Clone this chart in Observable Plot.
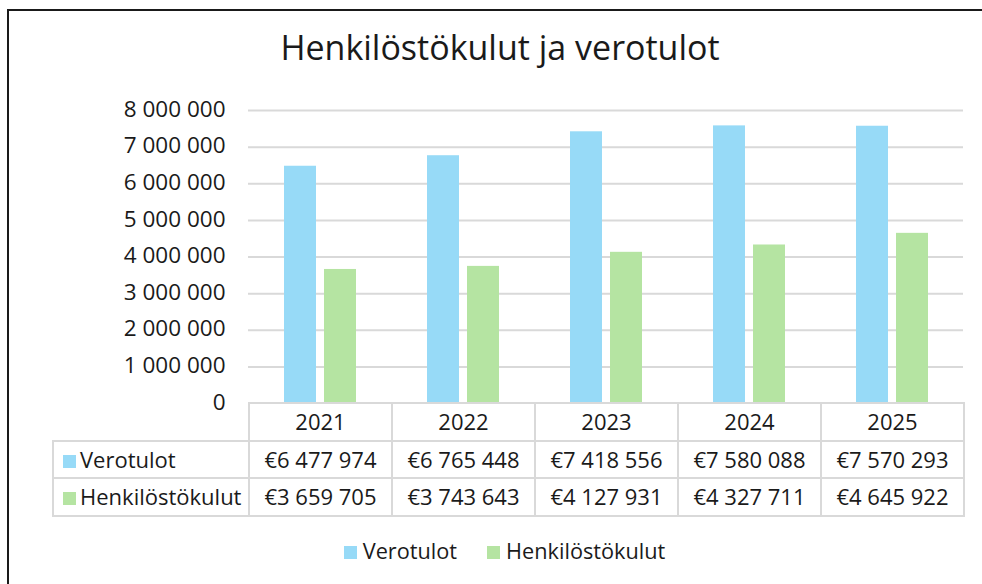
<!DOCTYPE html>
<html>
<head>
<meta charset="utf-8">
<script src="https://cdn.jsdelivr.net/npm/d3@7"></script>
<script src="https://cdn.jsdelivr.net/npm/@observablehq/plot@0.6"></script>
<style>
  html, body { margin: 0; padding: 0; background: #fff; }
  body { width: 982px; height: 584px; overflow: hidden; position: relative; font-family: "Open Sans", sans-serif; color: #1a1a1a; }
  #frame { position: absolute; left: 7px; top: 9px; width: 1000px; height: 600px; border-left: 2px solid #1a1a1a; border-top: 2px solid #1a1a1a; box-sizing: border-box; }
  #title { position: absolute; left: 0; width: 1000px; top: 24px; text-align: center; font-size: 34px; line-height: 46px; white-space: nowrap; }
  #chart { position: absolute; left: 0; top: 0; }
  #tbl { position: absolute; left: 52px; top: 402px; border-collapse: collapse; font-size: 22px; }
  #tbl td { border: 2px solid #d9d9d9; height: 35.5px; padding: 0; text-align: center; white-space: nowrap; line-height: 35px; }
  #tbl td.lbl { text-align: left; padding-left: 9px; width: 185px; }
  #tbl td.yr, #tbl td.val { width: 141px; }
  #tbl td.blank { border: none; }
  .sw { display: inline-block; width: 13px; height: 13px; margin-right: 4px; vertical-align: 0px; }
  #legend { position: absolute; top: 536px; left: 0; width: 1009px; text-align: center; font-size: 21.7px; white-space: nowrap; }
  #legend span.item { margin: 0 15px; }
  #legend .sw { margin-right: 6px; }
</style>
</head>
<body>
<div id="frame"></div>
<div id="title">Henkilöstökulut ja verotulot</div>
<div id="chart"></div>
<table id="tbl"></table>
<div id="legend"></div>
<script>
const years = ["2021", "2022", "2023", "2024", "2025"];
const seriesNames = ["Verotulot", "Henkilöstökulut"];
const verotulot = [6477974, 6765448, 7418556, 7580088, 7570293];
const henkilostokulut = [3659705, 3743643, 4127931, 4327711, 4645922];
const yTicks = [0, 1000000, 2000000, 3000000, 4000000, 5000000, 6000000, 7000000, 8000000];
const colors = ["#97DAF7", "#B5E4A2"];

const values = [verotulot, henkilostokulut];
const data = [];
years.forEach((yr, i) => {
  seriesNames.forEach((s, j) => data.push({year: yr, series: s, value: values[j][i]}));
});

const spaceFmt = d => d3.format(",")(d).replace(/,/g, " ");
const euroFmt = d => "€" + spaceFmt(d);

const plot = Plot.plot({
  width: 982,
  height: 430,
  marginTop: 110,
  marginBottom: 27,
  marginLeft: 248,
  marginRight: 19,
  style: {fontFamily: "Open Sans, sans-serif", fontSize: "22.5px", color: "#1a1a1a", background: "transparent"},
  fx: {domain: years, padding: 0, axis: null},
  x: {domain: seriesNames, paddingInner: 0.2, paddingOuter: 0.8875, axis: null},
  y: {domain: [0, 8000000], axis: null},
  color: {domain: seriesNames, range: colors},
  marks: [
    Plot.gridY(yTicks.filter(d => d > 0), {stroke: "#d9d9d9", strokeOpacity: 1, strokeWidth: 2}),
    Plot.barY(data, {fx: "year", x: "series", y: "value", fill: "series"}),
    Plot.axisY(yTicks, {tickSize: 0, tickPadding: 23, tickFormat: spaceFmt, fill: "#1a1a1a", fontSize: 22.5, label: null, dy: -1})
  ]
});
document.getElementById("chart").appendChild(plot);

// data table
const tbl = document.getElementById("tbl");
let row = tbl.insertRow();
let c = row.insertCell(); c.className = "blank lbl";
years.forEach(y => { const td = row.insertCell(); td.className = "yr"; td.textContent = y; });
seriesNames.forEach((s, j) => {
  const r = tbl.insertRow();
  const l = r.insertCell(); l.className = "lbl";
  l.innerHTML = `<span class="sw" style="background:${colors[j]}"></span>${s}`;
  values[j].forEach(v => { const td = r.insertCell(); td.className = "val"; td.textContent = euroFmt(v); });
});

// legend
document.getElementById("legend").innerHTML = seriesNames.map((s, j) =>
  `<span class="item"><span class="sw" style="background:${colors[j]}"></span>${s}</span>`).join("");
</script>
</body>
</html>
